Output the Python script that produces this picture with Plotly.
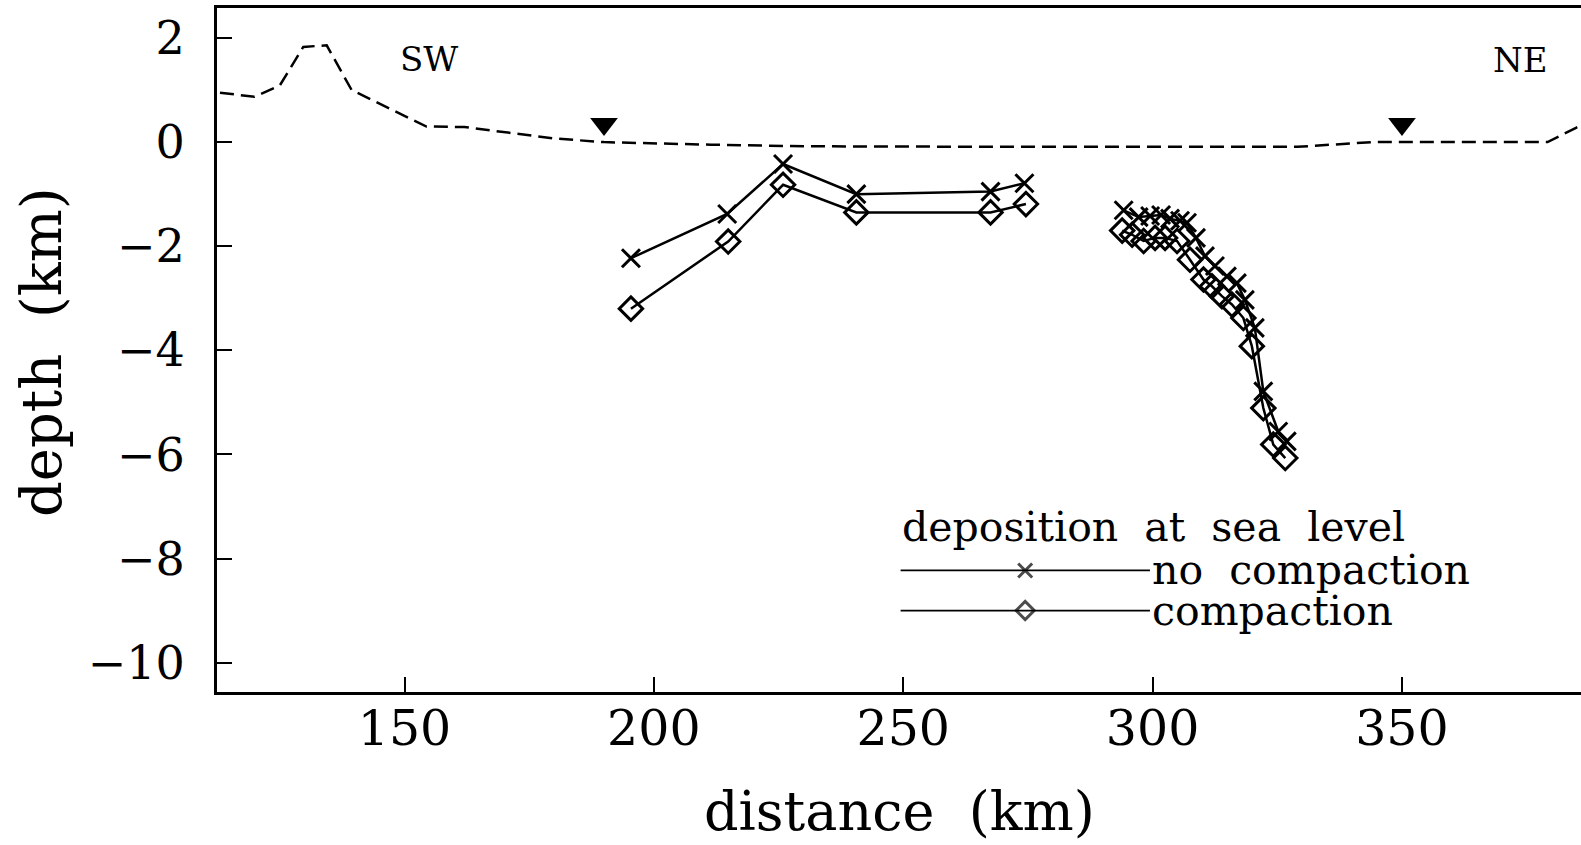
import plotly.graph_objects as go

# ---------------- data ----------------
topo_x = [113, 119.9, 125.0, 129.7, 134.4, 139.4, 154.4, 162, 180, 190, 211.5, 231, 270, 329, 344, 350, 379.2, 385, 387]
topo_y = [0.95, 0.87, 1.09, 1.83, 1.86, 1.00, 0.30, 0.29, 0.07, 0.0, -0.05, -0.08, -0.09, -0.09, 0.0, 0.0, 0.0, 0.28, 0.36]

sealevel_x = [190, 350]
sealevel_y = [0.35, 0.35]

# no compaction (x markers); None separates the two segments
nocomp_x = [195.4, 214.7, 225.9, 240.6, 267.5, 274.3, None,
            294.2, 297.2, 299.5, 301.7, 303.5, 305.5, 306.9, 308.7, 310.5, 312.5,
            314.9, 316.9, 318.5, 320.5, 322.2, 325.2, 326.9]
nocomp_y = [-2.23, -1.38, -0.42, -1.00, -0.95, -0.79, None,
            -1.31, -1.44, -1.42, -1.40, -1.47, -1.51, -1.55, -1.84, -2.19, -2.38,
            -2.58, -2.71, -3.03, -3.57, -4.79, -5.56, -5.75]

# compaction (diamond markers)
comp_x = [195.4, 214.9, 225.9, 240.6, 267.5, 274.6, None,
          293.9, 295.9, 298.2, 300.5, 302.5, 304.9, 307.5, 310.2, 311.9, 313.9,
          315.9, 318.2, 319.9, 322.2, 324.2, 326.6]
comp_y = [-3.20, -1.91, -0.82, -1.35, -1.35, -1.19, None,
          -1.70, -1.78, -1.90, -1.84, -1.84, -1.90, -2.26, -2.64, -2.77, -2.96,
          -3.12, -3.38, -3.92, -5.11, -5.81, -6.07]

x_ticks = [150, 200, 250, 300, 350]
y_ticks = [2, 0, -2, -4, -6, -8, -10]
y_ticktext = ["2", "0", "\u22122", "\u22124", "\u22126", "\u22128", "\u221210"]

legend_title = "deposition  at  sea  level"
legend_labels = ["no  compaction", "compaction"]
legend_rows_y = [-8.23, -9.0]

FONT = "DejaVu Serif"

fig = go.Figure()

fig.add_trace(go.Scatter(x=topo_x, y=topo_y, mode="lines",
                         line=dict(color="black", width=2.5, dash="14px,7px"),
                         showlegend=False, hoverinfo="skip"))
fig.add_trace(go.Scatter(x=sealevel_x, y=sealevel_y, mode="markers",
                         marker=dict(symbol="triangle-down", size=24, color="black"),
                         showlegend=False))
fig.add_trace(go.Scatter(x=nocomp_x, y=nocomp_y, mode="lines+markers",
                         line=dict(color="black", width=2.5),
                         marker=dict(symbol="x-thin", size=18, line=dict(width=3, color="black")),
                         connectgaps=False, showlegend=False))
fig.add_trace(go.Scatter(x=comp_x, y=comp_y, mode="lines+markers",
                         line=dict(color="black", width=2.5),
                         marker=dict(symbol="diamond-open", size=18, color="black", line=dict(width=3)),
                         connectgaps=False, showlegend=False))

# legend samples drawn on a hidden helper axis
for ly, sym in zip(legend_rows_y, ["x-thin", "diamond-open"]):
    fig.add_trace(go.Scatter(x=[0, 0.5, 1], y=[ly, ly, ly], xaxis="x2", yaxis="y",
                             mode="lines+markers",
                             line=dict(color="black", width=1.8),
                             marker=dict(symbol=sym, size=[0, 14, 0], color="black",
                                         line=dict(width=3, color="black")),
                             showlegend=False, hoverinfo="skip"))

annotations = [
    dict(x=155, y=1.6, xref="x", yref="y", text="SW", showarrow=False,
         font=dict(family=FONT, size=34, color="black")),
    dict(x=373.7, y=1.57, xref="x", yref="y", text="NE", showarrow=False,
         font=dict(family=FONT, size=34, color="black")),
    dict(x=0.0, y=-7.39, xref="x2", yref="y", text=legend_title, showarrow=False,
         xanchor="left", font=dict(family=FONT, size=41, color="black")),
]
for ly, lab in zip(legend_rows_y, legend_labels):
    annotations.append(dict(x=1.0, y=ly, xref="x2", yref="y", text=lab, showarrow=False,
                            xanchor="left", xshift=0,
                            font=dict(family=FONT, size=41, color="black")))
# axis titles
annotations.append(dict(x=0.5, y=-0.175, xref="paper", yref="paper", text="distance  (km)",
                        showarrow=False, yanchor="middle", xanchor="center",
                        font=dict(family=FONT, size=54, color="black")))
annotations.append(dict(x=-0.129, y=0.497, xref="paper", yref="paper", text="depth  (km)",
                        showarrow=False, textangle=-90, xanchor="center", yanchor="middle",
                        font=dict(family=FONT, size=56, color="black")))

fig.update_layout(
    width=1581, height=845,
    margin=dict(l=217, r=0, t=8, b=153),
    paper_bgcolor="white", plot_bgcolor="rgba(0,0,0,0)",
    font=dict(family=FONT, color="black"),
    annotations=annotations,
    xaxis=dict(range=[112.4, 385.9], tickvals=x_ticks, ticks="inside", ticklen=15,
               tickwidth=1.5, tickcolor="black", showline=True, linecolor="black",
               linewidth=3, mirror=True, showgrid=False, zeroline=False,
               tickfont=dict(family=FONT, size=49, color="black"), ticklabelstandoff=-9),
    yaxis=dict(range=[-10.565, 2.577], tickvals=y_ticks, ticktext=y_ticktext,
               ticks="inside", ticklen=15, tickwidth=1.5, tickcolor="black",
               showline=True, linecolor="black", linewidth=3, mirror=False,
               showgrid=False, zeroline=False,
               tickfont=dict(family=FONT, size=46, color="black"), ticklabelstandoff=20),
    xaxis2=dict(domain=[0.501, 0.684], range=[0, 1], visible=False, anchor="y",
                fixedrange=True),
)

fig.write_html("out.html")
